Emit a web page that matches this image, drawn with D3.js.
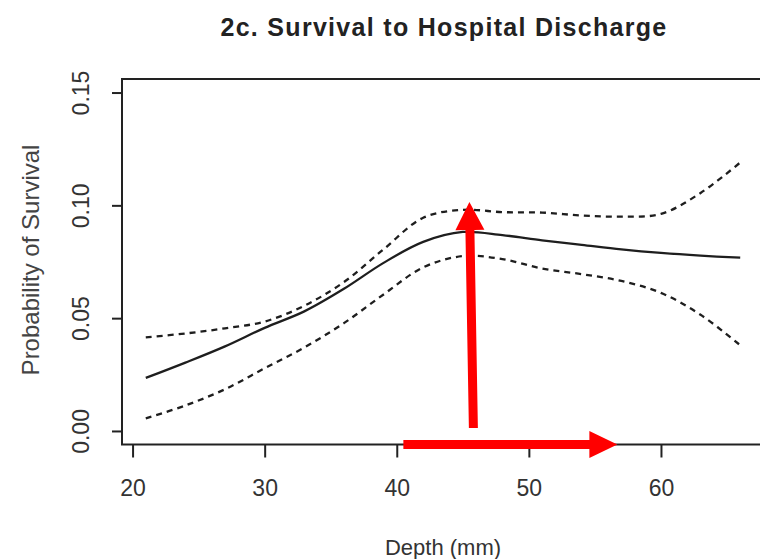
<!DOCTYPE html>
<html>
<head>
<meta charset="utf-8">
<script src="https://cdn.jsdelivr.net/npm/d3@7"></script>
<style>
  html, body { margin: 0; padding: 0; background: #fff; }
  svg { display: block; font-family: "Liberation Sans", Arial, sans-serif; }
</style>
</head>
<body>
<svg id="chart" width="760" height="559"></svg>
<script>
// Fitted probability of survival by depth, with its confidence band
const depth = [21, 24, 27, 30, 33, 36, 39, 42, 45, 48, 51, 54, 57, 60, 63, 66];
const fit   = [0.0235, 0.0303, 0.0375, 0.0457, 0.053, 0.063, 0.0745, 0.0838, 0.0882, 0.0868, 0.0845, 0.0825, 0.0805, 0.0789, 0.0777, 0.0768];
const upper = [0.0415, 0.0432, 0.0455, 0.0485, 0.0555, 0.066, 0.0805, 0.0945, 0.098, 0.097, 0.0968, 0.0955, 0.095, 0.0962, 0.1055, 0.119];
const lower = [0.0056, 0.0113, 0.0185, 0.0278, 0.037, 0.0478, 0.0605, 0.0725, 0.0775, 0.0762, 0.072, 0.0695, 0.0665, 0.0612, 0.0515, 0.038];

const xTicks = [20, 30, 40, 50, 60];
const yTicks = [0.00, 0.05, 0.10, 0.15];

// Annotation arrows, in data units: [x0, y0] -> [x1, y1]
const arrowUp    = [[45.8, 0.0013], [45.5, 0.1015]];
const arrowRight = [[40.5, -0.006], [56.7, -0.006]];

const titleText = "2c. Survival to Hospital Discharge";
const xLabel = "Depth (mm)";
const yLabel = "Probability of Survival";

const svg = d3.select("#chart");

// Plot region (R-style 4% padding around the data limits)
const x = d3.scaleLinear().domain([19.2, 67.8]).range([122, 764]);
const y = d3.scaleLinear().domain([-0.006, 0.156]).range([444.5, 79]);

// Box
svg.append("rect")
  .attr("x", x.range()[0]).attr("y", y.range()[1])
  .attr("width", x.range()[1] - x.range()[0])
  .attr("height", y.range()[0] - y.range()[1])
  .attr("fill", "none").attr("stroke", "#222").attr("stroke-width", 2);

// Bottom axis
const xAxis = svg.append("g")
  .attr("transform", `translate(0,${y.range()[0]})`)
  .call(d3.axisBottom(x).tickValues(xTicks).tickFormat(d3.format("d")).tickSize(13).tickPadding(22));
xAxis.select(".domain").remove();
xAxis.selectAll(".tick line").attr("stroke", "#222").attr("stroke-width", 2);
xAxis.selectAll(".tick text")
  .attr("fill", "#333").style("font-size", "23px").style("font-family", "Liberation Sans, Arial, sans-serif");

// Left axis with labels parallel to the axis
const yAxis = svg.append("g")
  .attr("transform", `translate(${x.range()[0]},0)`)
  .call(d3.axisLeft(y).tickValues(yTicks).tickFormat(d3.format(".2f")).tickSize(10).tickPadding(0));
yAxis.select(".domain").remove();
yAxis.selectAll(".tick line").attr("stroke", "#222").attr("stroke-width", 2);
yAxis.selectAll(".tick text")
  .attr("x", null).attr("dy", null)
  .attr("transform", "translate(-33,0) rotate(-90)")
  .attr("text-anchor", "middle")
  .attr("fill", "#333").style("font-size", "23px").style("font-family", "Liberation Sans, Arial, sans-serif");

// Lines
const line = (vals) => d3.line()
  .x((d, i) => x(depth[i]))
  .y(d => y(d))
  .curve(d3.curveCatmullRom.alpha(0.5))(vals);

svg.append("path").attr("d", line(upper))
  .attr("fill", "none").attr("stroke", "#1e1e1e").attr("stroke-width", 2.3).attr("stroke-dasharray", "6,5");
svg.append("path").attr("d", line(lower))
  .attr("fill", "none").attr("stroke", "#1e1e1e").attr("stroke-width", 2.3).attr("stroke-dasharray", "6,5");
svg.append("path").attr("d", line(fit))
  .attr("fill", "none").attr("stroke", "#1e1e1e").attr("stroke-width", 2.3);

// Red arrows
function arrowPath(seg, shaft, headLen, headHalf) {
  const [x0, y0] = [x(seg[0][0]), y(seg[0][1])];
  const [x1, y1] = [x(seg[1][0]), y(seg[1][1])];
  const len = Math.hypot(x1 - x0, y1 - y0);
  const ux = (x1 - x0) / len, uy = (y1 - y0) / len;
  const nx = -uy, ny = ux;
  const bx = x1 - ux * headLen, by = y1 - uy * headLen;
  const h = shaft / 2;
  const pts = [
    [x0 + nx * h, y0 + ny * h],
    [bx + nx * h, by + ny * h],
    [bx + nx * headHalf, by + ny * headHalf],
    [x1, y1],
    [bx - nx * headHalf, by - ny * headHalf],
    [bx - nx * h, by - ny * h],
    [x0 - nx * h, y0 - ny * h]
  ];
  return "M" + pts.map(p => p.join(",")).join("L") + "Z";
}
svg.append("path").attr("d", arrowPath(arrowUp, 9, 28, 14.5)).attr("fill", "#ff0000");
svg.append("path").attr("d", arrowPath(arrowRight, 9, 28, 13.5)).attr("fill", "#ff0000");

// Titles
svg.append("text")
  .attr("x", 444).attr("y", 36)
  .attr("text-anchor", "middle")
  .attr("fill", "#222")
  .style("font-size", "25px").style("font-weight", "bold").style("letter-spacing", "1.3px")
  .text(titleText);

svg.append("text")
  .attr("x", 443).attr("y", 555)
  .attr("text-anchor", "middle")
  .attr("fill", "#333")
  .style("font-size", "22px")
  .text(xLabel);

svg.append("text")
  .attr("transform", "translate(39,260) rotate(-90)")
  .attr("text-anchor", "middle")
  .attr("fill", "#444")
  .style("font-size", "24px")
  .text(yLabel);
</script>
</body>
</html>
